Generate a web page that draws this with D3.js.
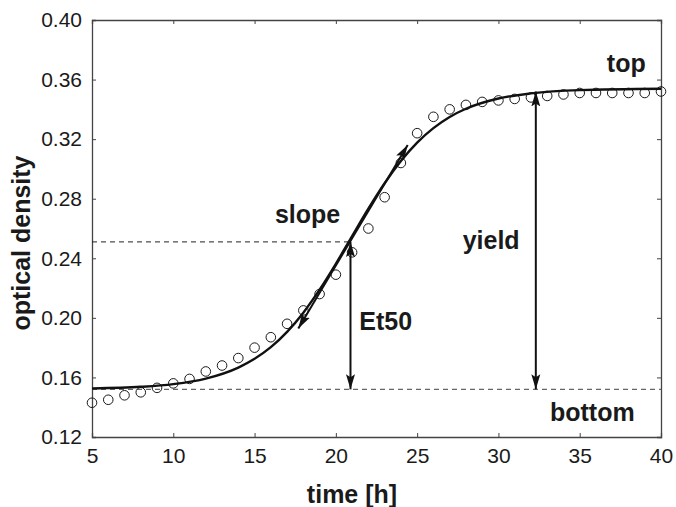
<!DOCTYPE html>
<html>
<head>
<meta charset="utf-8">
<script src="https://cdn.jsdelivr.net/npm/d3@7"></script>
<style>
    body { margin: 0; background: #fff; }
    text { font-family: "Liberation Sans", Arial, sans-serif; fill: #1a1a1a; }
</style>
</head>
<body>
<svg id="chart" width="676" height="507"></svg>
<script>
// measured optical density, one reading per hour
const hours = [5, 6, 7, 8, 9, 10, 11, 12, 13, 14, 15, 16, 17, 18, 19, 20, 21, 22,
    23, 24, 25, 26, 27, 28, 29, 30, 31, 32, 33, 34, 35, 36, 37, 38, 39, 40]
const density = [0.143, 0.145, 0.148, 0.150, 0.153, 0.156, 0.159, 0.164, 0.168, 0.173,
    0.180, 0.187, 0.196, 0.205, 0.216, 0.229, 0.244, 0.260, 0.281, 0.304,
    0.324, 0.335, 0.340, 0.343, 0.345, 0.346, 0.347, 0.348, 0.349, 0.350,
    0.351, 0.351, 0.351, 0.351, 0.351, 0.352]

// fitted curve
const fitHours = [5, 8, 10, 12, 14, 15, 16, 17, 18, 19, 20, 21, 22, 23, 24, 25, 26, 27, 28, 30, 32, 35, 40]
const fitDensity = [0.1526, 0.1537, 0.1555, 0.1592, 0.1666, 0.1725, 0.1803, 0.1906, 0.2035,
    0.2189, 0.2363, 0.2549, 0.2733, 0.2904, 0.3053, 0.3177, 0.3274, 0.3349, 0.3404,
    0.3473, 0.3507, 0.3529, 0.3538]

// fit parameters
const bottomLevel = 0.152
const halfLevel = 0.251
const et50 = 20.9
const yieldAt = 32.3
const topLevel = 0.352
const slopeFrom = [17.69, 0.1929]
const slopeTo = [24.42, 0.3161]

const xTicks = [5, 10, 15, 20, 25, 30, 35, 40]
const yTicks = [0.12, 0.16, 0.20, 0.24, 0.28, 0.32, 0.36, 0.40]

const labels = [
    { text: "top", t: 36.67, v: 0.365 },
    { text: "slope", t: 16.25, v: 0.2637 },
    { text: "yield", t: 27.8, v: 0.2462 },
    { text: "Et50", t: 21.44, v: 0.1918 },
    { text: "bottom", t: 33.17, v: 0.1309 }
]

const box = { left: 92, right: 661, top: 20, bottom: 437 }
const svg = d3.select("#chart")

const x = d3.scaleLinear().domain([5, 40]).range([box.left, box.right])
const y = d3.scaleLinear().domain([0.12, 0.40]).range([box.bottom, box.top])

svg.append("defs").append("marker")
    .attr("id", "head")
    .attr("viewBox", "0 0 15 10")
    .attr("refX", 15).attr("refY", 5)
    .attr("markerWidth", 15).attr("markerHeight", 10)
    .attr("markerUnits", "userSpaceOnUse")
    .attr("orient", "auto-start-reverse")
    .append("path")
    .attr("d", "M0,0.5L15,5L0,9.5L3,5Z")
    .attr("fill", "#111")

// axes with inward ticks on all four sides
const tick = 4
const ax = svg.append("g").attr("color", "#444")
ax.append("g").attr("transform", `translate(0,${box.bottom})`)
    .call(d3.axisBottom(x).tickValues(xTicks).tickSize(-tick).tickPadding(11).tickFormat(d3.format("d")))
ax.append("g").attr("transform", `translate(0,${box.top})`)
    .call(d3.axisTop(x).tickValues(xTicks).tickSize(-tick).tickFormat(""))
ax.append("g").attr("transform", `translate(${box.left},0)`)
    .call(d3.axisLeft(y).tickValues(yTicks).tickSize(-tick).tickPadding(10).tickFormat(d3.format(".2f")))
ax.append("g").attr("transform", `translate(${box.right},0)`)
    .call(d3.axisRight(y).tickValues(yTicks).tickSize(-tick).tickFormat(""))
ax.selectAll(".domain").attr("stroke-width", 1.3)
ax.selectAll(".tick line").attr("stroke-width", 1)
ax.selectAll(".tick text")
    .style("font-size", "21px")
    .attr("fill", "#1a1a1a")

svg.append("text")
    .attr("x", 352).attr("y", 503)
    .attr("text-anchor", "middle")
    .style("font-size", "25px").style("font-weight", "bold")
    .text("time [h]")
svg.append("text")
    .attr("transform", "translate(30,243) rotate(-90)")
    .attr("text-anchor", "middle")
    .style("font-size", "25px").style("font-weight", "bold")
    .text("optical density")

// guide lines
svg.append("line")
    .attr("x1", x(5)).attr("x2", x(40))
    .attr("y1", y(bottomLevel)).attr("y2", y(bottomLevel))
    .attr("stroke", "#666").attr("stroke-width", 1.2)
    .attr("stroke-dasharray", "5,4")
svg.append("line")
    .attr("x1", x(5)).attr("x2", x(et50))
    .attr("y1", y(halfLevel)).attr("y2", y(halfLevel))
    .attr("stroke", "#222").attr("stroke-width", 1)
    .attr("stroke-dasharray", "5,4")

// measured points
svg.append("g")
    .selectAll("circle")
    .data(d3.zip(hours, density))
    .enter()
    .append("circle")
    .attr("cx", d => x(d[0]))
    .attr("cy", d => y(d[1]))
    .attr("r", 4.8)
    .attr("fill", "none")
    .attr("stroke", "#1a1a1a")
    .attr("stroke-width", 1)

// fitted curve
const line = d3.line()
    .x(d => x(d[0]))
    .y(d => y(d[1]))
    .curve(d3.curveMonotoneX)
svg.append("path")
    .datum(d3.zip(fitHours, fitDensity))
    .attr("d", line)
    .attr("fill", "none")
    .attr("stroke", "#111")
    .attr("stroke-width", 2.4)

// double headed arrows
const arrows = [
    [[et50, halfLevel], [et50, bottomLevel]],
    [[yieldAt, topLevel], [yieldAt, bottomLevel]],
    [slopeFrom, slopeTo]
]
svg.append("g")
    .selectAll("line")
    .data(arrows)
    .enter()
    .append("line")
    .attr("x1", d => x(d[0][0])).attr("y1", d => y(d[0][1]))
    .attr("x2", d => x(d[1][0])).attr("y2", d => y(d[1][1]))
    .attr("stroke", "#111")
    .attr("stroke-width", 2)
    .attr("marker-start", "url(#head)")
    .attr("marker-end", "url(#head)")

svg.append("g")
    .selectAll("text")
    .data(labels)
    .enter()
    .append("text")
    .attr("x", d => x(d.t))
    .attr("y", d => y(d.v))
    .style("font-size", "25px").style("font-weight", "bold")
    .text(d => d.text)
</script>
</body>
</html>
